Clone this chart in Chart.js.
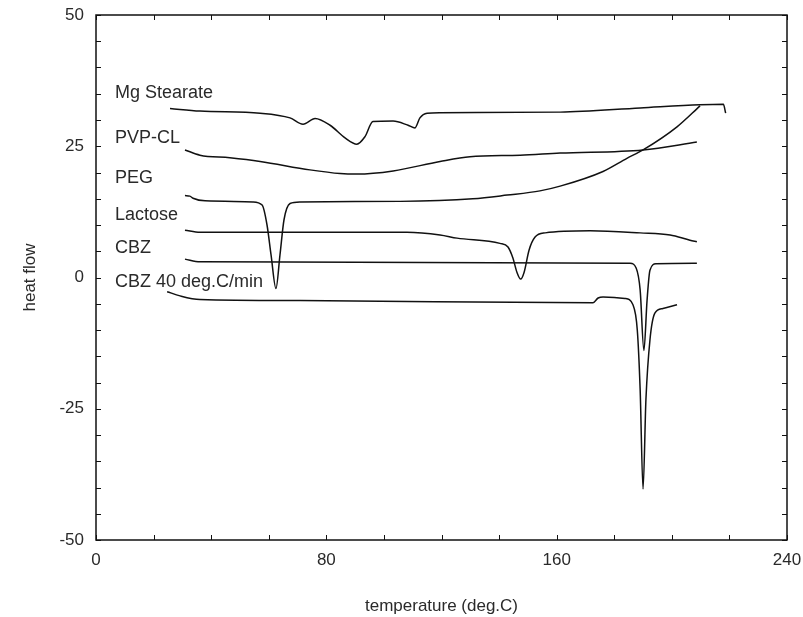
<!DOCTYPE html>
<html>
<head>
<meta charset="utf-8">
<script src="https://cdn.jsdelivr.net/npm/chart.js@4.4.1/dist/chart.umd.min.js"></script>
<style>
  html, body { margin: 0; padding: 0; background: #fff; }
  #wrap { width: 803px; height: 617px; }
</style>
</head>
<body>
<div id="wrap"><canvas id="dscChart" width="803" height="617"></canvas></div>
<script>
// DSC traces, temperature (deg.C) vs heat flow
const seriesNames = ['Mg Stearate', 'PVP-CL', 'PEG', 'Lactose', 'CBZ', 'CBZ 40 deg.C/min'];

const mgT = [25.7, 36.1, 57.0, 67.4, 71.9, 76.1, 81.3, 86.5, 90.6, 93.4, 96.2, 103.2, 108.4, 110.8, 112.5, 115.0, 119.5, 161.2, 189.0, 209.8, 217.9, 218.7];
const mgH = [32.2, 31.7, 31.3, 30.4, 29.2, 30.3, 29.0, 26.6, 25.4, 26.8, 29.7, 29.8, 29.0, 28.5, 30.4, 31.3, 31.4, 31.5, 32.3, 32.9, 33.0, 31.3];

const pvpT = [30.9, 36.1, 46.5, 57.0, 74.3, 84.8, 90.7, 103.2, 119.5, 129.9, 147.3, 161.2, 190.0, 208.7];
const pvpH = [24.3, 23.3, 22.8, 22.1, 20.5, 19.8, 19.7, 20.3, 22.1, 23.0, 23.3, 23.7, 24.3, 25.8];

const pegT = [30.9, 32.6, 33.7, 37.9, 54.5, 57.7, 59.4, 60.8, 62.5, 63.9, 65.3, 67.4, 70.9, 105.6, 130.9, 142.8, 154.2, 161.2, 176.1, 184.4, 190.0, 201.8, 209.8];
const pegH = [15.6, 15.5, 15.1, 14.6, 14.4, 13.8, 10.0, 4.3, -2.1, 4.3, 11.0, 14.1, 14.4, 14.5, 15.0, 15.7, 16.5, 17.4, 20.2, 22.7, 24.3, 28.7, 32.7];

const lacT = [30.9, 36.1, 108.0, 119.5, 125.4, 140.3, 143.1, 144.8, 146.2, 147.5, 148.7, 150.4, 152.5, 156.0, 171.6, 189.0, 199.4, 206.3, 208.7];
const lacH = [9.0, 8.6, 8.6, 8.1, 7.5, 6.5, 5.8, 3.7, 1.0, -0.3, 1.0, 5.2, 7.7, 8.5, 8.9, 8.5, 8.1, 7.1, 6.8];

const cbzT = [30.9, 36.1, 185.5, 187.6, 189.0, 190.3, 191.4, 192.4, 194.5, 208.7];
const cbzH = [3.5, 3.0, 2.7, 1.8, -2.4, -13.9, -4.3, 1.4, 2.6, 2.7];

const cbz40T = [24.7, 29.2, 36.1, 70.9, 172.6, 174.4, 176.1, 183.7, 186.5, 188.0, 189.0, 190.0, 191.0, 192.4, 194.1, 196.9, 201.8];
const cbz40H = [-2.7, -3.5, -4.2, -4.4, -4.8, -3.9, -3.7, -4.0, -5.2, -10.0, -21.4, -40.3, -23.3, -11.9, -6.8, -5.9, -5.2];

const xTicks = [0, 80, 160, 240];
const yTicks = [-50, -25, 0, 25, 50];

function pts(xs, ys) {
    return xs.map(function (x, i) { return { x: x, y: ys[i] }; });
}

const traces = [[mgT, mgH], [pvpT, pvpH], [pegT, pegH], [lacT, lacH], [cbzT, cbzH], [cbz40T, cbz40H]];

const FONT = "'Liberation Sans', 'DejaVu Sans', sans-serif";
const INK = '#2a2a2a';

// frame + inward tick marks on all four sides
const framePlugin = {
    id: 'frame',
    afterDatasetsDraw(chart) {
        const c = chart.ctx, a = chart.chartArea;
        const xs = chart.scales.x, ys = chart.scales.y;
        c.save();
        c.strokeStyle = '#111';
        c.lineWidth = 1.5;
        c.strokeRect(a.left, a.top, a.right - a.left, a.bottom - a.top);
        c.lineWidth = 1;
        c.beginPath();
        for (let v = 0; v <= 240; v += 20) {
            const px = Math.round(xs.getPixelForValue(v)) + 0.5;
            c.moveTo(px, a.bottom); c.lineTo(px, a.bottom - 5);
            c.moveTo(px, a.top); c.lineTo(px, a.top + 5);
        }
        for (let v = -50; v <= 50; v += 5) {
            const py = Math.round(ys.getPixelForValue(v)) + 0.5;
            c.moveTo(a.left, py); c.lineTo(a.left + 5, py);
            c.moveTo(a.right, py); c.lineTo(a.right - 5, py);
        }
        c.stroke();
        c.restore();
    }
};

// trace names written left of each curve
const labelAt = [35.1, 26.5, 18.9, 11.9, 5.6, -0.8];
const namePlugin = {
    id: 'names',
    afterDatasetsDraw(chart) {
        const c = chart.ctx;
        const xs = chart.scales.x, ys = chart.scales.y;
        c.save();
        c.font = '18px ' + FONT;
        c.fillStyle = INK;
        c.textBaseline = 'middle';
        c.textAlign = 'left';
        seriesNames.forEach(function (name, i) {
            c.fillText(name, xs.getPixelForValue(6.6), ys.getPixelForValue(labelAt[i]));
        });
        c.restore();
    }
};

// fixed box sizes, no extra room for overhanging tick labels
function fixBox(size) {
    return function (s) {
        if (s.isHorizontal()) s.height = size; else s.width = size;
        s.paddingTop = s.paddingBottom = s.paddingLeft = s.paddingRight = 0;
    };
}

const ctx = document.getElementById('dscChart').getContext('2d');
new Chart(ctx, {
    type: 'line',
    data: {
        datasets: traces.map(function (t, i) {
            return {
                label: seriesNames[i],
                data: pts(t[0], t[1]),
                borderColor: '#111',
                borderWidth: 1.5,
                pointRadius: 0,
                fill: false,
                cubicInterpolationMode: 'monotone'
            };
        })
    },
    options: {
        responsive: false,
        animation: false,
        layout: { padding: { top: 15, right: 16, left: 0, bottom: 0 } },
        plugins: {
            legend: { display: false },
            tooltip: { enabled: false }
        },
        scales: {
            x: {
                type: 'linear',
                min: 0, max: 240,
                afterBuildTicks: function (s) { s.ticks = xTicks.map(function (v) { return { value: v }; }); },
                afterFit: fixBox(77),
                grid: { display: false, drawTicks: false },
                border: { display: false },
                ticks: { padding: 10, color: INK, font: { family: FONT, size: 17 }, maxRotation: 0 },
                title: { display: true, text: 'temperature (deg.C)', color: INK, font: { family: FONT, size: 17 }, padding: { top: 0, bottom: 0 } }
            },
            y: {
                type: 'linear',
                min: -50, max: 50,
                afterBuildTicks: function (s) { s.ticks = yTicks.map(function (v) { return { value: v }; }); },
                afterFit: fixBox(96),
                grid: { display: false, drawTicks: false },
                border: { display: false },
                ticks: { padding: 12, color: INK, font: { family: FONT, size: 17 } },
                title: { display: true, text: 'heat flow', color: INK, font: { family: FONT, size: 17 }, padding: { top: 20, bottom: 18 } }
            }
        }
    },
    plugins: [framePlugin, namePlugin]
});
</script>
</body>
</html>
